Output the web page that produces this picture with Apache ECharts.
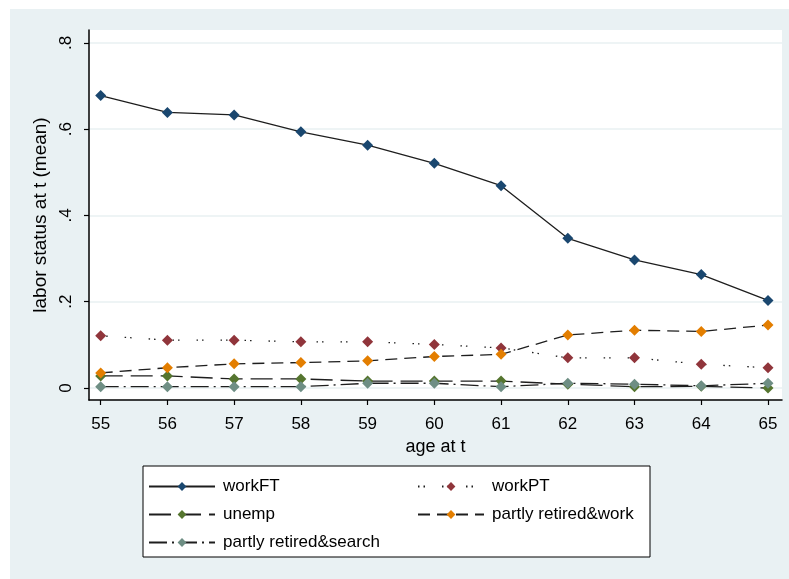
<!DOCTYPE html>
<html>
<head>
<meta charset="utf-8">
<script src="https://cdn.jsdelivr.net/npm/echarts@6/dist/echarts.min.js"></script>
<style>
  html, body { margin: 0; padding: 0; background: #ffffff; }
  #chart { position: absolute; left: 10px; top: 9px; width: 779px; height: 570px; }
</style>
</head>
<body>
<div id="chart"></div>
<script>
const ages = [55, 56, 57, 58, 59, 60, 61, 62, 63, 64, 65];
const yTicks = [0, 0.2, 0.4, 0.6, 0.8];
const yTickLabels = ['0', '.2', '.4', '.6', '.8'];
const workFT = [0.678, 0.639, 0.633, 0.594, 0.563, 0.521, 0.469, 0.347, 0.297, 0.263, 0.203];
const workPT = [0.121, 0.111, 0.111, 0.107, 0.107, 0.101, 0.093, 0.070, 0.070, 0.055, 0.047];
const unemp = [0.028, 0.028, 0.021, 0.021, 0.016, 0.016, 0.016, 0.009, 0.003, 0.004, 0.000];
const prWork = [0.035, 0.047, 0.056, 0.059, 0.063, 0.073, 0.078, 0.123, 0.134, 0.131, 0.146];
const prSearch = [0.003, 0.003, 0.003, 0.003, 0.011, 0.011, 0.003, 0.011, 0.009, 0.005, 0.011];
const seriesNames = ['workFT', 'workPT', 'unemp', 'partly retired&work', 'partly retired&search'];

const FONT = 'Liberation Sans, Arial, sans-serif';
const lineColor = '#1e1e1e';
const markerColors = ['#1a476f', '#90353b', '#55752f', '#e37e00', '#6e8e84'];
const dashes = ['solid', [1.5, 4, 1.5, 17], [22, 8], [12, 7], [18, 5, 2, 5]];
const allData = [workFT, workPT, unemp, prWork, prSearch];

const chart = echarts.init(document.getElementById('chart'), null, { renderer: 'canvas' });

const series = seriesNames.map((name, i) => ({
  name: name,
  type: 'line',
  data: ages.map((a, k) => [a, allData[i][k]]),
  symbol: 'diamond',
  symbolSize: 11,
  showSymbol: true,
  itemStyle: { color: markerColors[i], borderWidth: 0 },
  lineStyle: { color: lineColor, width: 1.3, type: dashes[i] },
  emphasis: { disabled: true },
  z: 2 + i,
  animation: false
}));

// legend placement (2 columns, 3 rows)
const legendPos = [
  { left: 138, row: 0 }, { left: 407, row: 0 },
  { left: 138, row: 1 }, { left: 407, row: 1 },
  { left: 138, row: 2 }
];
const rowCenters = [479, 507, 535];
const legends = seriesNames.map((name, i) => ({
  data: [name],
  left: legendPos[i].left,
  top: rowCenters[legendPos[i].row] - 10,
  padding: 0,
  itemWidth: 66,
  itemHeight: 11,
  selectedMode: false,
  z: 10,
  textStyle: { fontFamily: FONT, fontSize: 17, color: '#000', padding: [0, 0, 0, 3] }
}));

const option = {
  backgroundColor: '#e9f1f3',
  animation: false,
  grid: {
    left: 79, right: 7, top: 21, bottom: 179,
    show: true, backgroundColor: '#ffffff', borderWidth: 0
  },
  xAxis: {
    type: 'value',
    min: 54.825,
    max: 65.21,
    name: 'age at t',
    nameLocation: 'middle',
    nameGap: 36,
    nameTextStyle: { fontFamily: FONT, fontSize: 18, color: '#000' },
    axisLine: { show: true, onZero: false, lineStyle: { color: '#000', width: 1.5 } },
    axisTick: { show: true, length: 5, customValues: ages, lineStyle: { color: '#000', width: 1.2 } },
    axisLabel: { customValues: ages, fontFamily: FONT, fontSize: 17, color: '#000', margin: 16 },
    splitLine: { show: false }
  },
  yAxis: {
    type: 'value',
    min: -0.0278,
    max: 0.830,
    name: 'labor status at t (mean)',
    nameLocation: 'middle',
    nameRotate: 90,
    nameGap: 37,
    nameTextStyle: { fontFamily: FONT, fontSize: 19, color: '#000' },
    axisLine: { show: true, onZero: false, lineStyle: { color: '#000', width: 1.5 } },
    axisTick: { show: true, length: 5, customValues: yTicks, lineStyle: { color: '#000', width: 1.2 } },
    axisLabel: {
      customValues: yTicks,
      rotate: 90,
      fontFamily: FONT, fontSize: 17, color: '#000', margin: 14,
      formatter: function (v) {
        const idx = yTicks.findIndex(t => Math.abs(t - v) < 1e-6);
        return idx >= 0 ? yTickLabels[idx] : '';
      }
    },
    splitLine: { show: true, customValues: yTicks, lineStyle: { color: '#e8f0f2', width: 1.5 } }
  },
  legend: legends,
  graphic: [{
    type: 'rect',
    shape: { x: 133, y: 457, width: 507, height: 91 },
    style: { fill: '#ffffff', stroke: '#000', lineWidth: 1 },
    z: 1
  }],
  series: series
};

chart.setOption(option);
</script>
</body>
</html>
